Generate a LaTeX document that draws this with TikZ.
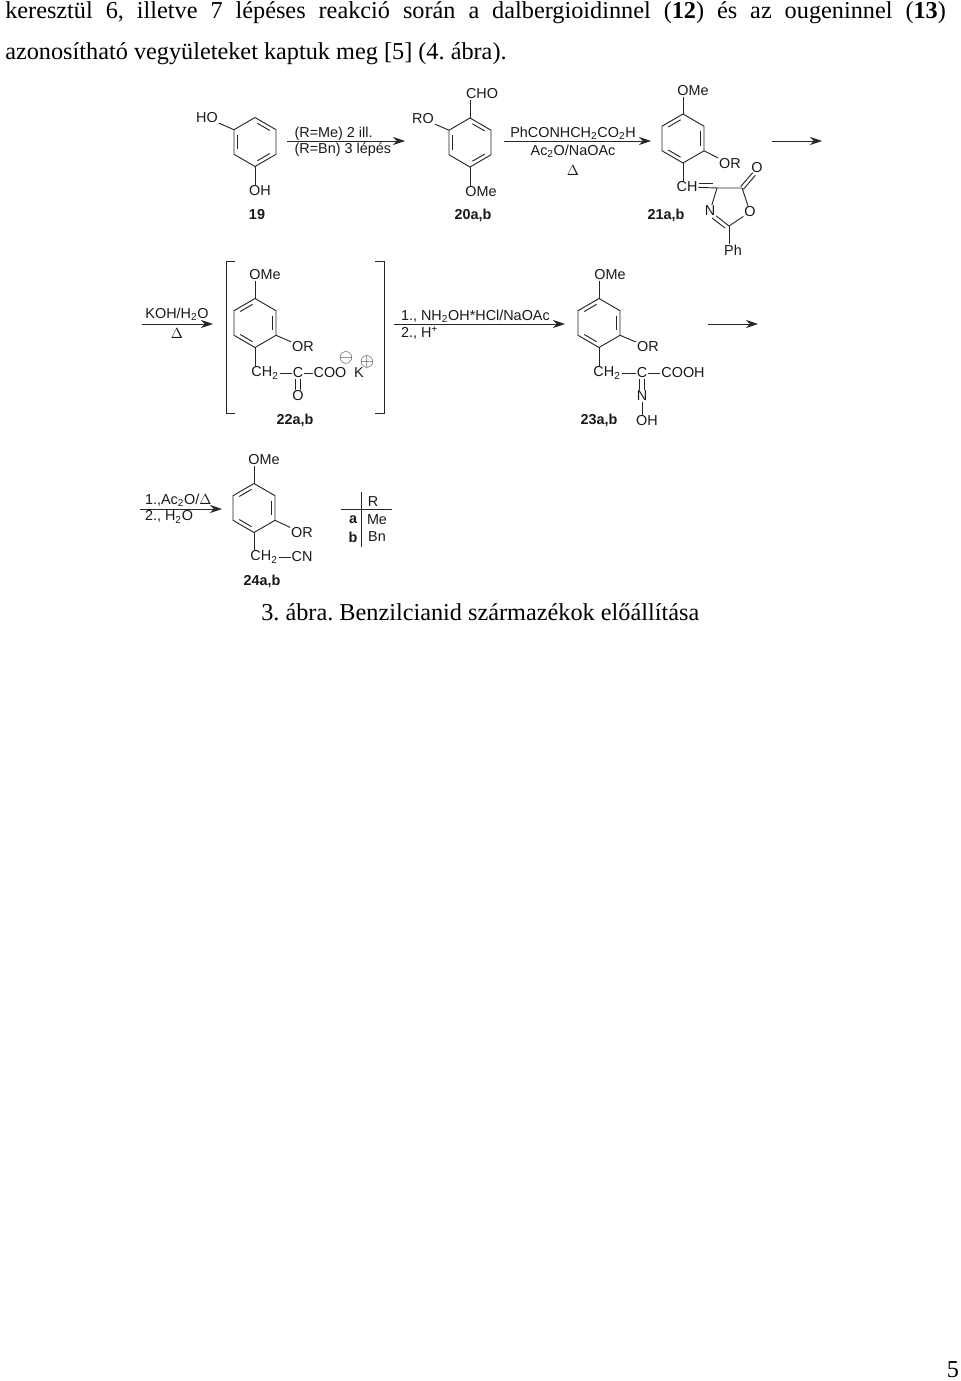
\documentclass[tikz,border=0pt]{standalone}
\usepackage{fontspec}
\setmainfont{Liberation Serif}
\newfontfamily\chemfont{Liberation Sans}
\usetikzlibrary{arrows.meta}
\usetikzlibrary{calc}

\tikzset{
	bond/.style={line width=0.7pt,black!85},
	rxn/.style={line width=0.7pt,black!85,-{Stealth[length=9pt,width=6pt]}},
	lab/.style={inner sep=0.6pt,font=\chemfont\fontsize{10.8}{12}\selectfont,black!90},
	num/.style={lab,font=\chemfont\bfseries\fontsize{10.8}{12}\selectfont},
	chg/.style={lab,scale=1.25},
	body/.style={inner sep=0pt,font=\frenchspacing\fontsize{18.2}{22}\selectfont}
}
\newcommand{\low}[1]{\textsubscript{#1}}
\newcommand{\benzring}[4]{
	\begin{scope}[shift={(#2,#3)}]
		\coordinate (#1c) at (0,0);
		\coordinate (#1t) at (0,-24.5);
		\coordinate (#1ur) at (21,-12.3);
		\coordinate (#1lr) at (21,12.3);
		\coordinate (#1b) at (0,24.5);
		\coordinate (#1ll) at (-21,12.3);
		\coordinate (#1ul) at (-21,-12.3);
	\end{scope}
	\draw[bond] (#1t) -- (#1ur) -- (#1lr) -- (#1b) -- (#1ll) -- (#1ul) -- cycle;
	\foreach \p/\q in {#4}{
		\draw[bond] ($($(#1\p)!.18!(#1c)$)!.14!($(#1\q)!.18!(#1c)$)$) -- ($($(#1\q)!.18!(#1c)$)!.14!($(#1\p)!.18!(#1c)$)$);
	}
}

\begin{document}
\begin{tikzpicture}[x=0.75pt,y=-0.75pt]
	\useasboundingbox (0,0) rectangle (960,1381);

	\node[body,anchor=west] (lineA) at (5,13) {\makebox[705.5pt][s]{keresztül 6, illetve 7 lépéses reakció során a dalbergioidinnel (\textbf{12}) és az ougeninnel (\textbf{13})}};
	\node[body,anchor=west] (lineB) at (5,54) {azonosítható vegyületeket kaptuk meg [5] (4. ábra).};

	% first row
	\benzring{rA}{255}{142}{t/ur,lr/b,ll/ul}
	\node[lab] (hoA) at (207,118) {HO};
	\node[lab] (ohA) at (260,191) {OH};
	\node[num] (numA) at (257,215) {19};
	\draw[bond] (hoA) -- (rAul);
	\draw[bond] (rAb) -- (rAb |- ohA.north);

	\coordinate (arAs) at (287,141);
	\coordinate (arAe) at (405,141);
	\draw[rxn] (arAs) -- (arAe);
	\node[lab,anchor=west] (txtA) at (293.5,134) {(R=Me) 2 ill.};
	\node[lab,anchor=west] (txtB) at (293.5,150) {(R=Bn) 3 lépés};

	\benzring{rB}{470}{142.5}{t/ur,lr/b,ll/ul}
	\node[lab] (roB) at (423,119) {RO};
	\node[lab] (choB) at (482,94) {CHO};
	\node[lab] (omeB) at (481,192) {OMe};
	\node[num] (numB) at (473,215) {20a,b};
	\draw[bond] (roB) -- (rBul);
	\draw[bond] (rBt) -- (rBt |- choB.south);
	\draw[bond] (rBb) -- (rBb |- omeB.north);

	\coordinate (arBs) at (504,141);
	\coordinate (arBe) at (651,141);
	\draw[rxn] (arBs) -- (arBe);
	\node[lab] (txtC) at (573,133) {PhCONHCH\low{2}CO\low{2}H};
	\node[lab] (txtD) at (573,151) {Ac\low{2}O/NaOAc};
	\node[lab] (txtE) at (573,171) {$\Delta$};

	\benzring{rC}{683}{138.5}{ul/t,ur/lr,b/ll}
	\node[lab] (omeC) at (693,91) {OMe};
	\node[lab] (orC) at (730,164) {OR};
	\node[lab] (chC) at (687,187) {CH};
	\node[num] (numC) at (666,215) {21a,b};
	\draw[bond] (rCt) -- (rCt |- omeC.south);
	\draw[bond] (rCur |- rClr) -- (orC);
	\draw[bond] (rCb) -- (rCb |- chC.north);

	\coordinate (cFour) at (717,188);
	\coordinate (cFive) at (742,188);
	\coordinate (cTwo) at (729,226);
	\coordinate (ketoEnd) at (754,174);
	\node[lab] (nC) at (710,211) {N};
	\node[lab] (oRing) at (750,212) {O};
	\node[lab] (oKeto) at (757,168) {O};
	\node[lab] (phC) at (733,250) {Ph};
	\draw[bond] (chC) -- (cFour) -- (cFive);
	\draw[bond] (699,183) -- (713,183);
	\draw[bond] (cFour) -- (nC);
	\draw[bond] (cFive) -- (oRing);
	\draw[bond] (oRing) -- (cTwo);
	\draw[bond] (nC) -- (cTwo);
	\draw[bond] (712,218) -- (725,228);
	\draw[bond] (cTwo) -- (cTwo |- phC.north);
	\draw[bond] ([xshift=-1pt,yshift=1pt]cFive) -- ([xshift=-1pt,yshift=1pt]ketoEnd);
	\draw[bond] ([xshift=1pt,yshift=-1pt]cFive) -- ([xshift=1pt,yshift=-1pt]ketoEnd);

	\coordinate (arCs) at (772,141);
	\coordinate (arCe) at (822,141);
	\draw[rxn] (arCs) -- (arCe);

	% second row
	\coordinate (arDs) at (142,324);
	\coordinate (arDe) at (213,324);
	\draw[rxn] (arDs) -- (arDe);
	\node[lab] (txtF) at (177,314) {KOH/H\low{2}O};
	\node[lab] (txtG) at (177,334) {$\Delta$};

	\draw[bond] (235,261) -- (226,261) -- (226,413) -- (235,413);
	\draw[bond] (375,261) -- (384,261) -- (384,413) -- (375,413);

	\benzring{rD}{255}{323}{ul/t,ur/lr,b/ll}
	\node[lab] (omeD) at (265,275) {OMe};
	\node[lab] (orD) at (303,347) {OR};
	\node[lab] (chD) at (265,373) {CH\low{2}};
	\node[lab] (cD) at (298,373) {C};
	\node[lab] (cooD) at (330,373) {COO};
	\node[lab] (kD) at (359,373) {K};
	\node[lab] (oD) at (298,396) {O};
	\node[chg] (minD) at (346,358) {$\ominus$};
	\node[chg] (plusD) at (367,362) {$\oplus$};
	\node[num] (numD) at (295,420) {22a,b};
	\draw[bond] (rDt) -- (rDt |- omeD.south);
	\draw[bond] (rDlr -| rDur) -- (orD);
	\draw[bond] (rDb) -- (rDb |- chD.north);
	\draw[bond] (chD.east |- cD) -- (cD);
	\draw[bond] (cD) -- (cooD);
	\draw[bond] ([xshift=-1.6pt]cD.south) -- ([xshift=-1.6pt]oD.north);
	\draw[bond] ([xshift=1.6pt]cD.south) -- ([xshift=1.6pt]oD.north);

	\coordinate (arEs) at (394,324);
	\coordinate (arEe) at (565,324);
	\draw[rxn] (arEs) -- (arEe);
	\node[lab,anchor=west] (txtH) at (400,316) {1., NH\low{2}OH*HCl/NaOAc};
	\node[lab,anchor=west] (txtI) at (400,333) {2., H\textsuperscript{+}};

	\benzring{rE}{599}{323}{ul/t,ur/lr,b/ll}
	\node[lab] (omeE) at (610,275) {OMe};
	\node[lab] (orE) at (648,347) {OR};
	\node[lab] (chE) at (607,373) {CH\low{2}};
	\node[lab] (cE) at (642,373) {C};
	\node[lab] (coohE) at (683,373) {COOH};
	\node[lab] (nE) at (642,396) {N};
	\node[lab] (ohE) at (647,421) {OH};
	\node[num] (numE) at (599,420) {23a,b};
	\draw[bond] (rEt) -- (rEt |- omeE.south);
	\draw[bond] (rElr -| rEur) -- (orE);
	\draw[bond] (rEb) -- (rEb |- chE.north);
	\draw[bond] (chE.east |- cE) -- (cE);
	\draw[bond] (cE) -- (coohE);
	\draw[bond] ([xshift=-1.6pt]cE.south) -- ([xshift=-1.6pt]nE.north);
	\draw[bond] ([xshift=1.6pt]cE.south) -- ([xshift=1.6pt]nE.north);
	\draw[bond] (nE) -- (nE |- ohE.north);

	\coordinate (arFs) at (708,324);
	\coordinate (arFe) at (758,324);
	\draw[rxn] (arFs) -- (arFe);

	% third row
	\coordinate (arGs) at (140,509);
	\coordinate (arGe) at (222,509);
	\draw[rxn] (arGs) -- (arGe);
	\node[lab,anchor=west] (txtJ) at (144,500) {1.,Ac\low{2}O/$\Delta$};
	\node[lab,anchor=west] (txtK) at (144,517) {2., H\low{2}O};

	\benzring{rF}{254}{508}{ul/t,ur/lr,b/ll}
	\node[lab] (omeF) at (264,460) {OMe};
	\node[lab] (orF) at (302,533) {OR};
	\node[lab] (chF) at (264,557) {CH\low{2}};
	\node[lab] (cnF) at (302,557) {CN};
	\node[num] (numF) at (262,581) {24a,b};
	\draw[bond] (rFt) -- (rFt |- omeF.south);
	\draw[bond] (rFlr -| rFur) -- (orF);
	\draw[bond] (rFb) -- (rFb |- chF.north);
	\draw[bond] (chF.east |- cnF) -- (cnF);

	% R table
	\coordinate (vtA) at (361,492);
	\coordinate (vtB) at (361,547);
	\coordinate (hzA) at (341,509);
	\coordinate (hzB) at (392,509);
	\draw[bond] (vtA) -- (vtB);
	\draw[bond] (hzA) -- (hzB);
	\node[lab] (tabR) at (373,502) {R};
	\node[num] (tabA) at (353,520) {a};
	\node[lab] (tabMe) at (377,520) {Me};
	\node[num] (tabB) at (353,537) {b};
	\node[lab] (tabBn) at (377,537) {Bn};

	\node[body,anchor=west] (capA) at (261,612) {3. ábra. Benzilcianid származékok előállítása};
	\node[body] (pageA) at (953,1370) {5};
\end{tikzpicture}
\end{document}
